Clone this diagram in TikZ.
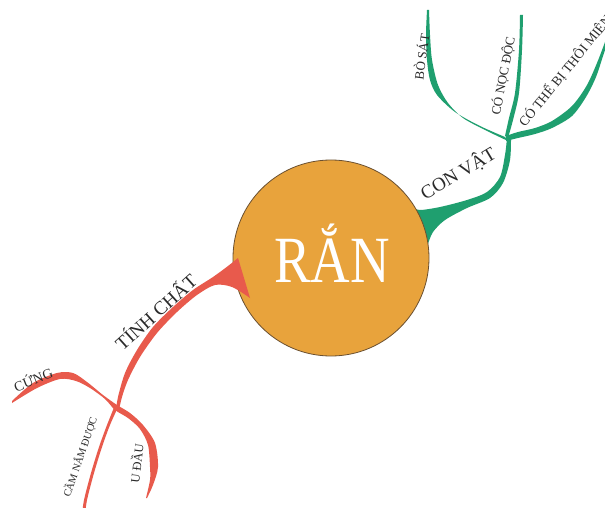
\documentclass[tikz,border=0pt]{standalone}
\usepackage{graphicx}
\usepackage{fontspec}
\setmainfont{Liberation Serif}
\definecolor{grn}{HTML}{1F9F6F}
\definecolor{rd}{HTML}{E85A4C}
\definecolor{org}{HTML}{E8A33C}
\definecolor{edgec}{HTML}{6B5030}
\definecolor{txt}{HTML}{2A2A2A}
\begin{document}
\begin{tikzpicture}[x=1pt,y=-1pt,
  lbl/.style={text=txt, inner sep=0pt},
  gbranch/.style={fill=grn},
  rbranch/.style={fill=rd}]
\useasboundingbox (0,0) rectangle (605,508);
\clip (0,0) rectangle (605,508);
\fill[white] (0,0) rectangle (605,508);
\coordinate (jg) at (507,138);
\coordinate (jr) at (117,407);
% green trunk
\fill[gbranch] plot[smooth] coordinates {(412,207) (420,210) (440,207) (467,200) (487,192) (500,177) (505,155) (507,138)}
  -- plot[smooth] coordinates {(511,138) (510,160) (503,183) (490,198) (467,208) (445,220) (433,232) (428,244)} -- cycle;
% BO SAT
\fill[gbranch] plot[smooth] coordinates {(508,141) (485,130) (463,118) (448,103) (438,85) (432,60) (430,35) (429,10)}
  -- plot[smooth] coordinates {(427,10) (426,35) (427,60) (430,80) (437,95) (455,112) (480,126) (505,137)} -- cycle;
% CO NOC DOC
\fill[gbranch] plot[smooth] coordinates {(508,138) (513,120) (519,93) (522,50) (523,15)}
  -- plot[smooth] coordinates {(520,15) (519,50) (515,93) (509,118) (505,136)} -- cycle;
% CO THE BI THOI MIEN
\fill[gbranch] plot[smooth] coordinates {(506,141) (518,138) (535,134) (552,128) (572,116) (586,97) (596,77) (604,53) (612,30)}
  -- plot[smooth] coordinates {(610,28) (599,58) (587,85) (572,106) (552,121) (535,128) (518,132) (506,136)} -- cycle;
% centre
\node[circle, draw=edgec, line width=0.8pt, fill=org, minimum size=196pt, inner sep=0pt] (ran) at (331,258) {};
\node[anchor=base, text=white, inner sep=0pt, font=\fontsize{66}{66}\selectfont] (title) at (332,282) {\scalebox{0.83}[1]{RẮN}};
% red trunk
\fill[rbranch] plot[smooth] coordinates {(238,258) (228,266) (213,277) (193,290) (173,307) (153,327) (137,350) (125,373) (118,397) (116,410)}
  -- plot[smooth] coordinates {(119,410) (122,397) (128,380) (140,357) (157,333) (177,312) (197,295) (215,285) (232,287) (250,298)} -- cycle;
% CUNG - U DAU
\fill[rbranch] plot[smooth] coordinates {(12,401) (33,383) (57,373) (73,373) (87,382) (103,395) (117,405) (130,413) (143,425) (155,443) (158,467) (153,485) (147,498)}
  -- plot[smooth] coordinates {(146,498) (150,480) (150,467) (148,445) (140,429) (128,418) (115,410) (105,399) (90,388) (76,381) (60,379) (37,388) (12,403)} -- cycle;
% CAM NAM DUOC
\fill[rbranch] plot[smooth] coordinates {(119,405) (110,425) (102,447) (94,473) (87,500) (85,515)}
  -- plot[smooth] coordinates {(82,515) (84,500) (91,473) (99,447) (107,425) (115,405)} -- cycle;
% labels
\node[lbl, font=\fontsize{19}{19}\selectfont, rotate=31] (convat) at (458,173) {CON VẬT};
\node[lbl, font=\fontsize{13}{13}\selectfont, rotate=82] (bosat) at (421,57) {BÒ SÁT};
\node[lbl, font=\fontsize{13}{13}\selectfont, rotate=79] (nocdoc) at (503,76) {CÓ NỌC ĐỘC};
\node[lbl, font=\fontsize{13.5}{13.5}\selectfont, rotate=51, anchor=base west] (thoimien) at (525,128) {CÓ THỂ BỊ THÔI MIÊN};
\node[lbl, font=\fontsize{19}{19}\selectfont, rotate=42] (tinhchat) at (155,311) {TÍNH CHẤT};
\node[lbl, font=\fontsize{14}{14}\selectfont, rotate=22] (cung) at (33,379) {CỨNG};
\node[lbl, font=\fontsize{10.5}{10.5}\selectfont, rotate=71] (camnam) at (80,457) {CẦM NẮM ĐƯỢC};
\node[lbl, font=\fontsize{12.5}{12.5}\selectfont, rotate=83] (udau) at (136,463) {U ĐẦU};
\end{tikzpicture}
\end{document}
